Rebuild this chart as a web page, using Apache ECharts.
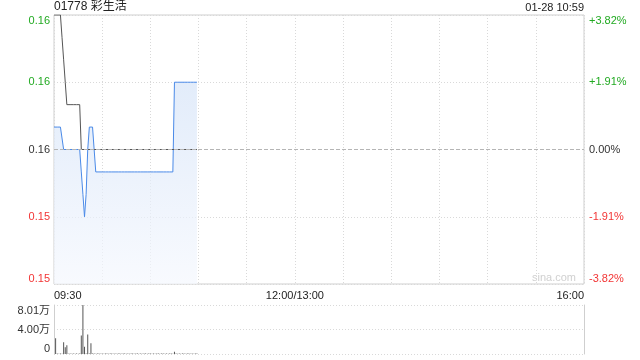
<!DOCTYPE html>
<html>
<head>
<meta charset="utf-8">
<script src="https://cdn.jsdelivr.net/npm/echarts@6/dist/echarts.min.js"></script>
<style>html,body{margin:0;padding:0;background:#fff;}#c{width:640px;height:360px;}</style>
</head>
<body>
<div id="c"></div>
<script>
// ---- data ----
var stockTitle = '01778 彩生活';
var stampText = '01-28 10:59';
var prevClose = 0.157;
var timeLabels = {0: '09:30', 150: '12:00/13:00', 330: '16:00'};
// price per minute from 09:30 (index 0) to 10:59 (index 89)
var price = [
  0.158,0.158,0.158,0.158,0.158,0.158,
  0.157,0.157,0.157,0.157,0.157,0.157,0.157,0.157,0.157,0.157,0.157,
  0.156,0.155,0.154,0.155,0.157,
  0.158,0.158,0.158,0.158,
  0.156,0.156,0.156,0.156,0.156,0.156,0.156,0.156,0.156,0.156,
  0.156,0.156,0.156,0.156,0.156,0.156,0.156,0.156,0.156,0.156,
  0.156,0.156,0.156,0.156,0.156,0.156,0.156,0.156,0.156,0.156,
  0.156,0.156,0.156,0.156,0.156,0.156,0.156,0.156,0.156,0.156,
  0.156,0.156,0.156,0.156,0.156,0.156,0.156,0.156,0.156,
  0.160,0.160,0.160,0.160,0.160,0.160,0.160,0.160,0.160,0.160,
  0.160,0.160,0.160,0.160,0.160
];
var avgPrice = [
  0.163,0.163,0.163,0.163,0.163,0.162,0.161,0.160,
  0.159,0.159,0.159,0.159,0.159,0.159,0.159,0.159,0.159,
  0.157,0.157,0.157,0.157,0.157,0.157,0.157,0.157,0.157,0.157,
  0.157,0.157,0.157,0.157,0.157,0.157,0.157,0.157,0.157,0.157,
  0.157,0.157,0.157,0.157,0.157,0.157,0.157,0.157,0.157,0.157,
  0.157,0.157,0.157,0.157,0.157,0.157,0.157,0.157,0.157,0.157,
  0.157,0.157,0.157,0.157,0.157,0.157,0.157,0.157,0.157,0.157,
  0.157,0.157,0.157,0.157,0.157,0.157,0.157,0.157,0.157,0.157,
  0.157,0.157,0.157,0.157,0.157,0.157,0.157,0.157,0.157,0.157,
  0.157,0.157,0.157
];
var volume = [
  0,25600,800,600,800,600,19200,11200,14400,600,
  800,600,800,600,800,600,800,30400,80100,11700,
  800,32000,800,17600,700,800,600,800,700,600,
  800,600,700,800,600,800,700,600,800,600,
  700,800,600,800,700,600,800,600,700,800,
  600,800,700,600,800,600,700,800,600,800,
  700,600,800,600,700,800,600,800,700,600,
  800,600,700,800,600,3500,700,600,800,600,
  700,800,600,800,700,600,800,600,700,800
];
var pctTicks = {min: -3.82, max: 3.82, interval: 1.91};
var volTicks = {min: 0, max: 80100, interval: 40050};

// ---- build ----
function pct(p) { return (p / prevClose - 1) * 100; }
var priceData = price.map(function (p, i) { return [i, pct(p)]; });
var avgData = avgPrice.map(function (p, i) { return [i, pct(p)]; });
var volData = volume.map(function (v, i) { return [i, v]; });

var FONT = '"Liberation Sans", Arial, "Noto Sans CJK SC", sans-serif';
var GREEN = '#22aa22', RED = '#f23535', DARK = '#333';
function pctColor(v) { v = Number(v); return v > 0.0001 ? GREEN : (v < -0.0001 ? RED : DARK); }
var dotted = {color: '#d9d9d9', type: [1, 2], width: 1};

var chart = echarts.init(document.getElementById('c'), null, {renderer: 'canvas'});
chart.setOption({
  animation: false,
  backgroundColor: '#fff',
  textStyle: {fontFamily: FONT},
  title: [
    {text: stockTitle, left: 54, top: 1, padding: 0,
     textStyle: {fontSize: 12, fontWeight: 'normal', color: '#222', fontFamily: FONT}},
    {text: stampText, right: 56, top: 2, padding: 0,
     textStyle: {fontSize: 11, fontWeight: 'normal', color: '#222', fontFamily: FONT}}
  ],
  graphic: [{
    type: 'text', left: 532, top: 272, silent: true,
    style: {text: 'sina.com', fill: '#d0d0d0', font: '11px ' + FONT}
  }],
  grid: [
    {left: 54, right: 56, top: 15, height: 269, show: true, borderColor: '#cfcfcf', borderWidth: 1},
    {left: 54, right: 56, top: 305, height: 49, show: false}
  ],
  xAxis: [
    {type: 'value', gridIndex: 0, min: 0, max: 330, interval: 30,
     axisLine: {show: false}, axisTick: {show: false},
     splitLine: {show: true, lineStyle: dotted},
     axisLabel: {show: true, margin: 6, fontSize: 11, color: '#222', fontFamily: FONT,
       showMinLabel: true, showMaxLabel: true,
       alignMinLabel: 'left', alignMaxLabel: 'right',
       formatter: function (v) { return timeLabels[v] || ''; }}},
    {type: 'value', gridIndex: 1, min: 0, max: 330, interval: 30,
     axisLine: {show: false}, axisTick: {show: false}, axisLabel: {show: false},
     splitLine: {show: false}}
  ],
  yAxis: [
    {type: 'value', gridIndex: 0, position: 'left', min: pctTicks.min, max: pctTicks.max, interval: pctTicks.interval,
     axisLine: {show: false}, axisTick: {show: false},
     splitLine: {show: true, lineStyle: dotted},
     axisLabel: {margin: 4, fontSize: 11, fontFamily: FONT,
       verticalAlignMinLabel: 'bottom', verticalAlignMaxLabel: 'top',
       color: function (v) { return pctColor(v); },
       formatter: function (v) { return (prevClose * (1 + v / 100)).toFixed(2); }}},
    {type: 'value', gridIndex: 0, position: 'right', min: pctTicks.min, max: pctTicks.max, interval: pctTicks.interval,
     axisLine: {show: false}, axisTick: {show: false}, splitLine: {show: false},
     axisLabel: {margin: 5, fontSize: 11, fontFamily: FONT,
       verticalAlignMinLabel: 'bottom', verticalAlignMaxLabel: 'top',
       color: function (v) { return pctColor(v); },
       formatter: function (v) {
         v = Number(v);
         if (Math.abs(v) < 0.0001) return '0.00%';
         return (v > 0 ? '+' : '') + v.toFixed(2) + '%';
       }}},
    {type: 'value', gridIndex: 1, position: 'left', min: volTicks.min, max: volTicks.max, interval: volTicks.interval,
     axisLine: {show: true, lineStyle: {color: '#cfcfcf'}}, axisTick: {show: false},
     splitLine: {show: true, lineStyle: dotted},
     axisLabel: {margin: 4, fontSize: 11, color: '#333', fontFamily: FONT,
       verticalAlignMinLabel: 'bottom', verticalAlignMaxLabel: 'top',
       formatter: function (v) { return v === 0 ? '0' : (v / 10000).toFixed(2) + '万'; }}},
    {type: 'value', gridIndex: 1, position: 'right', min: volTicks.min, max: volTicks.max, interval: volTicks.interval,
     axisLine: {show: true, lineStyle: {color: '#cfcfcf'}}, axisTick: {show: false},
     splitLine: {show: false}, axisLabel: {show: false}}
  ],
  series: [
    {type: 'line', name: 'price', xAxisIndex: 0, yAxisIndex: 0, data: priceData,
     showSymbol: false, symbol: 'none',
     lineStyle: {color: '#4a8ae8', width: 1},
     areaStyle: {origin: 'start', color: new echarts.graphic.LinearGradient(0, 0, 0, 1, [
       {offset: 0, color: '#d6e4f8'}, {offset: 1, color: '#f5f8fe'}])},
     markLine: {silent: true, symbol: ['none', 'none'], label: {show: false},
       lineStyle: {color: '#b5b5b5', type: [4, 2], width: 1},
       data: [{yAxis: 0}]},
     z: 3},
    {type: 'line', name: 'avg', xAxisIndex: 0, yAxisIndex: 0, data: avgData,
     showSymbol: false, symbol: 'none',
     lineStyle: {color: '#555', width: 1}, z: 4},
    {type: 'bar', name: 'vol', xAxisIndex: 1, yAxisIndex: 2, data: volData,
     barWidth: 1, itemStyle: {color: '#555'}}
  ]
});
</script>
</body>
</html>
